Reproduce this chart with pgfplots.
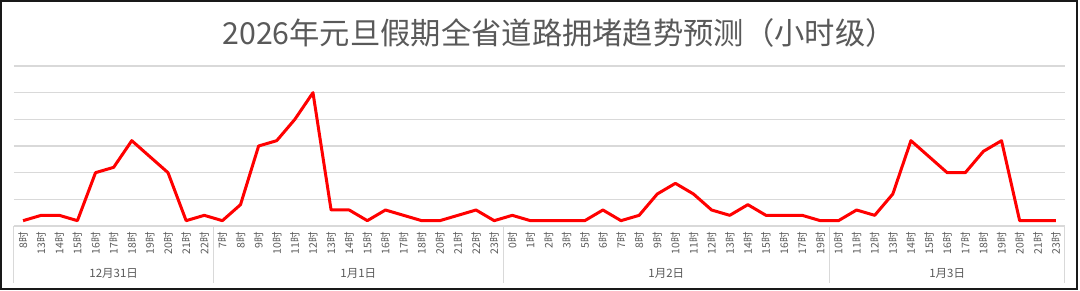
\documentclass[border=0pt]{standalone}
\usepackage{pgfplots}
\pgfplotsset{compat=1.18}
\usepackage{fontspec}
\setmainfont{Noto Sans CJK SC}
\definecolor{txt}{HTML}{595959}
\definecolor{grd}{HTML}{D9D9D9}
\begin{document}
\begin{tikzpicture}
\path[use as bounding box] (0,0) rectangle (1080pt,-291pt);
\draw[line width=2pt, black!90] (1pt,-1pt) rectangle (1077pt,-289pt);
\node[text=txt, font=\fontsize{30.3}{35}\selectfont] at (559pt,-33pt) {2026年元旦假期全省道路拥堵趋势预测（小时级）};
\begin{axis}[
  at={(14pt,-226pt)}, anchor=south west,
  scale only axis, width=1051pt, height=160pt,
  xmin=-0.5, xmax=57.5, ymin=0, ymax=30,
  axis lines*=left,
  axis line style={draw=none},
  tick style={draw=none},
  ytick={0,5,...,30}, yticklabels={},
  ymajorgrids, grid style={grd, line width=1.2pt},
  xtick={0,...,57},
  xticklabels={8时,13时,14时,15时,16时,17时,18时,19时,20时,21时,22时,
7时,8时,9时,10时,11时,12时,13时,14时,15时,16时,17时,18时,20时,21时,22时,23时,
0时,1时,2时,3时,5时,6时,7时,8时,9时,10时,11时,12时,13时,14时,15时,16时,17时,19时,
10时,11时,12时,13时,14时,15时,16时,17时,18时,19时,20时,21时,23时},
  xticklabel style={rotate=90, anchor=east, inner sep=0pt, text=txt, font=\fontsize{10.5}{11}\selectfont},
  xticklabel shift=6pt,
  clip=false,
]
\addplot[color=red, line width=3pt, line join=round, mark=none] coordinates {
(0,1)(1,2)(2,2)(3,1)(4,10)(5,11)(6,16)(7,13)(8,10)(9,1)(10,2)
(11,1)(12,4)(13,15)(14,16)(15,20)(16,25)(17,3)(18,3)(19,1)(20,3)(21,2)(22,1)(23,1)(24,2)(25,3)(26,1)
(27,2)(28,1)(29,1)(30,1)(31,1)(32,3)(33,1)(34,2)(35,6)(36,8)(37,6)(38,3)(39,2)(40,4)(41,2)(42,2)(43,2)(44,1)
(45,1)(46,3)(47,2)(48,6)(49,16)(50,13)(51,10)(52,10)(53,14)(54,16)(55,1)(56,1)(57,1)
};
\draw[grd, line width=1pt] ([yshift=-57pt]axis cs:-0.5,0) -- (axis cs:-0.5,0);
\draw[grd, line width=1pt] ([yshift=-57pt]axis cs:10.5,0) -- (axis cs:10.5,0);
\draw[grd, line width=1pt] ([yshift=-57pt]axis cs:26.5,0) -- (axis cs:26.5,0);
\draw[grd, line width=1pt] ([yshift=-57pt]axis cs:44.5,0) -- (axis cs:44.5,0);
\draw[grd, line width=1pt] ([yshift=-57pt]axis cs:57.5,0) -- (axis cs:57.5,0);
\node[text=txt, font=\fontsize{11.5}{12}\selectfont] at ([yshift=-47pt]axis cs:5,0) {12月31日};
\node[text=txt, font=\fontsize{11.5}{12}\selectfont] at ([yshift=-47pt]axis cs:18.5,0) {1月1日};
\node[text=txt, font=\fontsize{11.5}{12}\selectfont] at ([yshift=-47pt]axis cs:35.5,0) {1月2日};
\node[text=txt, font=\fontsize{11.5}{12}\selectfont] at ([yshift=-47pt]axis cs:51,0) {1月3日};
\end{axis}
\end{tikzpicture}
\end{document}
